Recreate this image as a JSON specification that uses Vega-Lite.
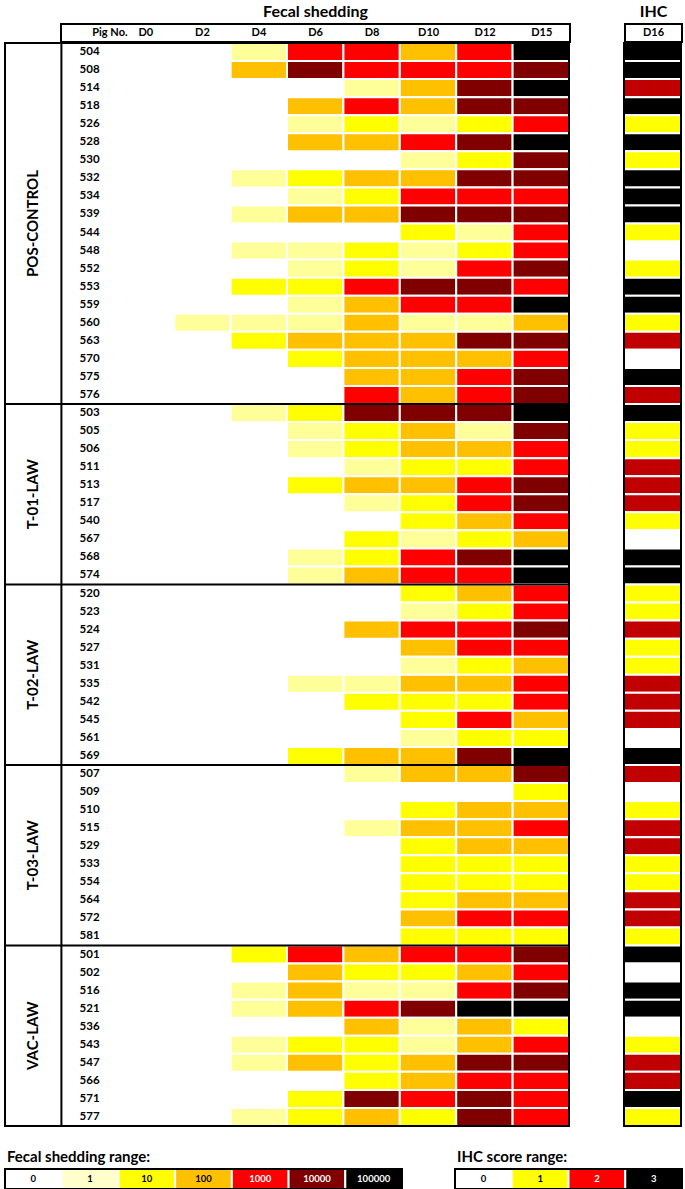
{
 "$schema": "https://vega.github.io/schema/vega-lite/v6.json",
 "padding": {"left": 4, "top": 4, "right": 0, "bottom": 0},
 "background": "white",
 "config": {
  "view": {"stroke": null},
  "font": "Lato",
  "title": {"font": "Lato", "fontSize": 16, "fontWeight": "bold", "offset": 3, "color": "black"},
  "text": {"font": "Lato", "fontWeight": "bold", "fontSize": 11, "color": "black"}
 },
 "datasets": {
  "pigs": [
   {"pig":"504","group":"POS-CONTROL","D0":0,"D2":0,"D4":1,"D6":1000,"D8":1000,"D10":100,"D12":1000,"D15":100000,"IHC":3},
   {"pig":"508","group":"POS-CONTROL","D0":0,"D2":0,"D4":100,"D6":10000,"D8":1000,"D10":1000,"D12":1000,"D15":10000,"IHC":3},
   {"pig":"514","group":"POS-CONTROL","D0":0,"D2":0,"D4":0,"D6":0,"D8":1,"D10":100,"D12":10000,"D15":100000,"IHC":2},
   {"pig":"518","group":"POS-CONTROL","D0":0,"D2":0,"D4":0,"D6":100,"D8":1000,"D10":100,"D12":10000,"D15":10000,"IHC":3},
   {"pig":"526","group":"POS-CONTROL","D0":0,"D2":0,"D4":0,"D6":1,"D8":10,"D10":1,"D12":10,"D15":1000,"IHC":1},
   {"pig":"528","group":"POS-CONTROL","D0":0,"D2":0,"D4":0,"D6":100,"D8":100,"D10":1000,"D12":10000,"D15":100000,"IHC":3},
   {"pig":"530","group":"POS-CONTROL","D0":0,"D2":0,"D4":0,"D6":0,"D8":0,"D10":1,"D12":10,"D15":10000,"IHC":1},
   {"pig":"532","group":"POS-CONTROL","D0":0,"D2":0,"D4":1,"D6":10,"D8":100,"D10":100,"D12":10000,"D15":10000,"IHC":3},
   {"pig":"534","group":"POS-CONTROL","D0":0,"D2":0,"D4":0,"D6":1,"D8":10,"D10":1000,"D12":1000,"D15":1000,"IHC":3},
   {"pig":"539","group":"POS-CONTROL","D0":0,"D2":0,"D4":1,"D6":100,"D8":100,"D10":10000,"D12":10000,"D15":10000,"IHC":3},
   {"pig":"544","group":"POS-CONTROL","D0":0,"D2":0,"D4":0,"D6":0,"D8":0,"D10":10,"D12":1,"D15":1000,"IHC":1},
   {"pig":"548","group":"POS-CONTROL","D0":0,"D2":0,"D4":1,"D6":1,"D8":10,"D10":1,"D12":10,"D15":1000,"IHC":0},
   {"pig":"552","group":"POS-CONTROL","D0":0,"D2":0,"D4":0,"D6":1,"D8":10,"D10":1,"D12":1000,"D15":10000,"IHC":1},
   {"pig":"553","group":"POS-CONTROL","D0":0,"D2":0,"D4":10,"D6":10,"D8":1000,"D10":10000,"D12":10000,"D15":1000,"IHC":3},
   {"pig":"559","group":"POS-CONTROL","D0":0,"D2":0,"D4":0,"D6":1,"D8":100,"D10":1000,"D12":1000,"D15":100000,"IHC":3},
   {"pig":"560","group":"POS-CONTROL","D0":0,"D2":1,"D4":1,"D6":1,"D8":100,"D10":1,"D12":1,"D15":100,"IHC":1},
   {"pig":"563","group":"POS-CONTROL","D0":0,"D2":0,"D4":10,"D6":100,"D8":100,"D10":100,"D12":10000,"D15":10000,"IHC":2},
   {"pig":"570","group":"POS-CONTROL","D0":0,"D2":0,"D4":0,"D6":10,"D8":100,"D10":100,"D12":100,"D15":1000,"IHC":0},
   {"pig":"575","group":"POS-CONTROL","D0":0,"D2":0,"D4":0,"D6":0,"D8":100,"D10":100,"D12":1000,"D15":10000,"IHC":3},
   {"pig":"576","group":"POS-CONTROL","D0":0,"D2":0,"D4":0,"D6":0,"D8":1000,"D10":100,"D12":1000,"D15":10000,"IHC":2},
   {"pig":"503","group":"T-01-LAW","D0":0,"D2":0,"D4":1,"D6":10,"D8":10000,"D10":10000,"D12":10000,"D15":100000,"IHC":3},
   {"pig":"505","group":"T-01-LAW","D0":0,"D2":0,"D4":0,"D6":1,"D8":10,"D10":100,"D12":1,"D15":10000,"IHC":1},
   {"pig":"506","group":"T-01-LAW","D0":0,"D2":0,"D4":0,"D6":1,"D8":10,"D10":100,"D12":100,"D15":1000,"IHC":1},
   {"pig":"511","group":"T-01-LAW","D0":0,"D2":0,"D4":0,"D6":0,"D8":1,"D10":10,"D12":10,"D15":1000,"IHC":2},
   {"pig":"513","group":"T-01-LAW","D0":0,"D2":0,"D4":0,"D6":10,"D8":100,"D10":100,"D12":1000,"D15":10000,"IHC":2},
   {"pig":"517","group":"T-01-LAW","D0":0,"D2":0,"D4":0,"D6":0,"D8":1,"D10":10,"D12":1000,"D15":10000,"IHC":2},
   {"pig":"540","group":"T-01-LAW","D0":0,"D2":0,"D4":0,"D6":0,"D8":0,"D10":10,"D12":100,"D15":1000,"IHC":1},
   {"pig":"567","group":"T-01-LAW","D0":0,"D2":0,"D4":0,"D6":0,"D8":10,"D10":1,"D12":10,"D15":100,"IHC":0},
   {"pig":"568","group":"T-01-LAW","D0":0,"D2":0,"D4":0,"D6":1,"D8":10,"D10":1000,"D12":10000,"D15":100000,"IHC":3},
   {"pig":"574","group":"T-01-LAW","D0":0,"D2":0,"D4":0,"D6":1,"D8":100,"D10":1000,"D12":1000,"D15":100000,"IHC":3},
   {"pig":"520","group":"T-02-LAW","D0":0,"D2":0,"D4":0,"D6":0,"D8":0,"D10":10,"D12":100,"D15":1000,"IHC":1},
   {"pig":"523","group":"T-02-LAW","D0":0,"D2":0,"D4":0,"D6":0,"D8":0,"D10":1,"D12":10,"D15":1000,"IHC":1},
   {"pig":"524","group":"T-02-LAW","D0":0,"D2":0,"D4":0,"D6":0,"D8":100,"D10":1000,"D12":1000,"D15":10000,"IHC":2},
   {"pig":"527","group":"T-02-LAW","D0":0,"D2":0,"D4":0,"D6":0,"D8":0,"D10":100,"D12":1000,"D15":1000,"IHC":1},
   {"pig":"531","group":"T-02-LAW","D0":0,"D2":0,"D4":0,"D6":0,"D8":0,"D10":1,"D12":10,"D15":100,"IHC":1},
   {"pig":"535","group":"T-02-LAW","D0":0,"D2":0,"D4":0,"D6":1,"D8":1,"D10":100,"D12":100,"D15":1000,"IHC":2},
   {"pig":"542","group":"T-02-LAW","D0":0,"D2":0,"D4":0,"D6":0,"D8":10,"D10":10,"D12":10,"D15":1000,"IHC":2},
   {"pig":"545","group":"T-02-LAW","D0":0,"D2":0,"D4":0,"D6":0,"D8":0,"D10":10,"D12":1000,"D15":100,"IHC":2},
   {"pig":"561","group":"T-02-LAW","D0":0,"D2":0,"D4":0,"D6":0,"D8":0,"D10":1,"D12":10,"D15":10,"IHC":0},
   {"pig":"569","group":"T-02-LAW","D0":0,"D2":0,"D4":0,"D6":10,"D8":100,"D10":100,"D12":10000,"D15":100000,"IHC":3},
   {"pig":"507","group":"T-03-LAW","D0":0,"D2":0,"D4":0,"D6":0,"D8":1,"D10":100,"D12":100,"D15":10000,"IHC":2},
   {"pig":"509","group":"T-03-LAW","D0":0,"D2":0,"D4":0,"D6":0,"D8":0,"D10":0,"D12":0,"D15":10,"IHC":0},
   {"pig":"510","group":"T-03-LAW","D0":0,"D2":0,"D4":0,"D6":0,"D8":0,"D10":10,"D12":100,"D15":100,"IHC":1},
   {"pig":"515","group":"T-03-LAW","D0":0,"D2":0,"D4":0,"D6":0,"D8":1,"D10":100,"D12":100,"D15":1000,"IHC":2},
   {"pig":"529","group":"T-03-LAW","D0":0,"D2":0,"D4":0,"D6":0,"D8":0,"D10":10,"D12":100,"D15":100,"IHC":2},
   {"pig":"533","group":"T-03-LAW","D0":0,"D2":0,"D4":0,"D6":0,"D8":0,"D10":10,"D12":10,"D15":10,"IHC":1},
   {"pig":"554","group":"T-03-LAW","D0":0,"D2":0,"D4":0,"D6":0,"D8":0,"D10":10,"D12":10,"D15":10,"IHC":1},
   {"pig":"564","group":"T-03-LAW","D0":0,"D2":0,"D4":0,"D6":0,"D8":0,"D10":10,"D12":100,"D15":100,"IHC":2},
   {"pig":"572","group":"T-03-LAW","D0":0,"D2":0,"D4":0,"D6":0,"D8":0,"D10":100,"D12":1000,"D15":1000,"IHC":2},
   {"pig":"581","group":"T-03-LAW","D0":0,"D2":0,"D4":0,"D6":0,"D8":0,"D10":10,"D12":10,"D15":10,"IHC":1},
   {"pig":"501","group":"VAC-LAW","D0":0,"D2":0,"D4":10,"D6":1000,"D8":100,"D10":1000,"D12":1000,"D15":10000,"IHC":3},
   {"pig":"502","group":"VAC-LAW","D0":0,"D2":0,"D4":0,"D6":100,"D8":10,"D10":10,"D12":100,"D15":1000,"IHC":0},
   {"pig":"516","group":"VAC-LAW","D0":0,"D2":0,"D4":1,"D6":100,"D8":1,"D10":1,"D12":1000,"D15":10000,"IHC":3},
   {"pig":"521","group":"VAC-LAW","D0":0,"D2":0,"D4":1,"D6":100,"D8":1000,"D10":10000,"D12":100000,"D15":100000,"IHC":3},
   {"pig":"536","group":"VAC-LAW","D0":0,"D2":0,"D4":0,"D6":0,"D8":100,"D10":1,"D12":100,"D15":10,"IHC":0},
   {"pig":"543","group":"VAC-LAW","D0":0,"D2":0,"D4":1,"D6":10,"D8":10,"D10":1,"D12":100,"D15":1000,"IHC":1},
   {"pig":"547","group":"VAC-LAW","D0":0,"D2":0,"D4":1,"D6":100,"D8":10,"D10":100,"D12":10000,"D15":10000,"IHC":2},
   {"pig":"566","group":"VAC-LAW","D0":0,"D2":0,"D4":0,"D6":0,"D8":10,"D10":100,"D12":1000,"D15":1000,"IHC":2},
   {"pig":"571","group":"VAC-LAW","D0":0,"D2":0,"D4":0,"D6":10,"D8":10000,"D10":1000,"D12":10000,"D15":1000,"IHC":3},
   {"pig":"577","group":"VAC-LAW","D0":0,"D2":0,"D4":1,"D6":10,"D8":100,"D10":10,"D12":10000,"D15":1000,"IHC":1}
  ],
  "groups": [
   {"group":"POS-CONTROL","first":"504","mid":"539"},
   {"group":"T-01-LAW","first":"503","mid":"513"},
   {"group":"T-02-LAW","first":"520","mid":"531"},
   {"group":"T-03-LAW","first":"507","mid":"529"},
   {"group":"VAC-LAW","first":"501","mid":"536"}
  ],
  "frame": [{}]
 },
 "resolve": {"scale": {"color": "independent"}},
 "spacing": 23,
 "vconcat": [
  {
   "spacing": -2,
   "resolve": {"scale": {"color": "independent"}},
   "vconcat": [
    {
     "spacing": 53,
     "resolve": {"scale": {"color": "independent"}},
     "hconcat": [
      {
       "width": 2, "height": 18,
       "data": {"values": [{}]},
       "mark": {"type": "text"},
       "encoding": {"text": {"value": ""}}
      },
      {
       "width": 509, "height": 18,
       "title": {"text": "Fecal shedding", "anchor": "middle", "frame": "group"},
       "data": {"values": [
        {"c":"pig","t":"Pig No."},{"c":"D0","t":"D0"},{"c":"D2","t":"D2"},{"c":"D4","t":"D4"},{"c":"D6","t":"D6"},
        {"c":"D8","t":"D8"},{"c":"D10","t":"D10"},{"c":"D12","t":"D12"},{"c":"D15","t":"D15"}
       ]},
       "layer": [
        {
         "transform": [{"filter": "datum.c !== 'pig'"}],
         "mark": {"type": "text"},
         "encoding": {
          "x": {"field": "c", "type": "nominal", "scale": {"domain": ["pig","D0","D2","D4","D6","D8","D10","D12","D15"], "paddingInner": 0, "paddingOuter": 0}, "axis": null},
          "text": {"field": "t"}
         }
        },
        {
         "transform": [{"filter": "datum.c === 'pig'"}],
         "mark": {"type": "text", "align": "left", "dx": 3},
         "encoding": {
          "x": {"field": "c", "type": "nominal", "bandPosition": 0, "axis": null},
          "text": {"field": "t"}
         }
        },
        {
         "data": {"name": "frame"},
         "mark": {"type": "rect", "filled": false, "stroke": "black", "strokeWidth": 2},
         "encoding": {"x": {"value": 0}, "x2": {"value": "width"}, "y": {"value": 0}, "y2": {"value": "height"}}
        }
       ]
      },
      {
       "width": 57, "height": 18,
       "title": {"text": "IHC", "anchor": "middle", "frame": "group"},
       "layer": [
        {
         "data": {"values": [{"t": "D16"}]},
         "mark": {"type": "text"},
         "encoding": {"text": {"field": "t"}}
        },
        {
         "data": {"name": "frame"},
         "mark": {"type": "rect", "filled": false, "stroke": "black", "strokeWidth": 2},
         "encoding": {"x": {"value": 0}, "x2": {"value": "width"}, "y": {"value": 0}, "y2": {"value": "height"}}
        }
       ]
      }
     ]
    },
    {
     "spacing": 53,
     "resolve": {"scale": {"color": "independent"}},
     "hconcat": [
      {
       "width": 564, "height": 1083,
       "layer": [
        {
         "data": {"name": "pigs"},
         "transform": [
          {"fold": ["D0","D2","D4","D6","D8","D10","D12","D15"], "as": ["day","value"]},
          {"filter": "datum.value > 0"}
         ],
         "mark": {"type": "rect", "stroke": "white", "strokeWidth": 2},
         "encoding": {
          "x": {"field": "day", "type": "nominal", "scale": {"domain": ["grp","pig","D0","D2","D4","D6","D8","D10","D12","D15"], "paddingInner": 0, "paddingOuter": 0}, "axis": null},
          "y": {"field": "pig", "type": "nominal", "scale": {"domain": ["504","508","514","518","526","528","530","532","534","539","544","548","552","553","559","560","563","570","575","576","503","505","506","511","513","517","540","567","568","574","520","523","524","527","531","535","542","545","561","569","507","509","510","515","529","533","554","564","572","581","501","502","516","521","536","543","547","566","571","577"], "paddingInner": 0, "paddingOuter": 0}, "axis": null},
          "color": {"field": "value", "type": "ordinal", "scale": {"domain": [0,1,10,100,1000,10000,100000], "range": ["#FFFFFF","#FFFF99","#FFFF00","#FFC000","#FF0000","#800000","#000000"]}, "legend": null}
         }
        },
        {
         "data": {"name": "pigs"},
         "mark": {"type": "text", "fontSize": 11.5},
         "encoding": {
          "x": {"datum": "pig", "type": "nominal"},
          "y": {"field": "pig", "type": "nominal"},
          "text": {"field": "pig"}
         }
        },
        {
         "data": {"name": "groups"},
         "mark": {"type": "text", "angle": 270, "fontSize": 15, "align": "center", "baseline": "middle"},
         "encoding": {
          "x": {"datum": "grp", "type": "nominal"},
          "y": {"field": "mid", "type": "nominal", "bandPosition": 1},
          "text": {"field": "group"}
         }
        },
        {
         "data": {"name": "groups"},
         "mark": {"type": "rule", "color": "black", "strokeWidth": 2},
         "encoding": {
          "y": {"field": "first", "type": "nominal", "bandPosition": 0}
         }
        },
        {
         "data": {"name": "frame"},
         "mark": {"type": "rule", "color": "black", "strokeWidth": 2},
         "encoding": {
          "x": {"datum": "pig", "type": "nominal", "bandPosition": 0}
         }
        },
        {
         "data": {"name": "frame"},
         "mark": {"type": "rect", "filled": false, "stroke": "black", "strokeWidth": 2},
         "encoding": {"x": {"value": 0}, "x2": {"value": "width"}, "y": {"value": 0}, "y2": {"value": "height"}}
        }
       ]
      },
      {
       "width": 57, "height": 1083,
       "layer": [
        {
         "data": {"name": "pigs"},
         "mark": {"type": "rect", "stroke": "white", "strokeWidth": 2},
         "encoding": {
          "x": {"value": 0},
          "x2": {"value": "width"},
          "y": {"field": "pig", "type": "nominal", "sort": null, "scale": {"paddingInner": 0, "paddingOuter": 0}, "axis": null},
          "color": {"field": "IHC", "type": "ordinal", "scale": {"domain": [0,1,2,3], "range": ["#FFFFFF","#FFFF00","#C00000","#000000"]}, "legend": null}
         }
        },
        {
         "data": {"name": "frame"},
         "mark": {"type": "rect", "filled": false, "stroke": "black", "strokeWidth": 2},
         "encoding": {"x": {"value": 0}, "x2": {"value": "width"}, "y": {"value": 0}, "y2": {"value": "height"}}
        }
       ]
      }
     ]
    }
   ]
  },
  {
   "spacing": 51,
   "resolve": {"scale": {"color": "independent"}},
   "hconcat": [
    {
     "width": 397, "height": 20,
     "title": {"text": "Fecal shedding range:", "anchor": "start", "fontSize": 15, "dx": 3},
     "layer": [
      {
       "data": {"values": [{"v":"0"},{"v":"1"},{"v":"10"},{"v":"100"},{"v":"1000"},{"v":"10000"},{"v":"100000"}]},
       "mark": {"type": "rect", "stroke": "white", "strokeWidth": 2},
       "encoding": {
        "x": {"field": "v", "type": "nominal", "sort": null, "scale": {"paddingInner": 0, "paddingOuter": 0}, "axis": null},
        "y": {"value": 0},
        "y2": {"value": "height"},
        "color": {"field": "v", "type": "nominal", "scale": {"domain": ["0","1","10","100","1000","10000","100000"], "range": ["#FFFFFF","#FFFFCC","#FFFF00","#FFC000","#FF0000","#800000","#000000"]}, "legend": null}
       }
      },
      {
       "data": {"values": [{"v":"0"},{"v":"1"},{"v":"10"},{"v":"100"},{"v":"1000"},{"v":"10000"},{"v":"100000"}]},
       "mark": {"type": "text", "fontSize": 9.5, "fontWeight": "bold"},
       "encoding": {
        "x": {"field": "v", "type": "nominal", "sort": null},
        "text": {"field": "v"},
        "color": {"condition": {"test": "+datum.v >= 1000", "value": "white"}, "value": "black"}
       }
      },
      {
       "data": {"name": "frame"},
       "mark": {"type": "rect", "filled": false, "stroke": "black", "strokeWidth": 2},
       "encoding": {"x": {"value": 0}, "x2": {"value": "width"}, "y": {"value": 0}, "y2": {"value": "height"}}
      }
     ]
    },
    {
     "width": 227, "height": 20,
     "title": {"text": "IHC score range:", "anchor": "start", "fontSize": 15, "dx": 3},
     "layer": [
      {
       "data": {"values": [{"v":"0"},{"v":"1"},{"v":"2"},{"v":"3"}]},
       "mark": {"type": "rect", "stroke": "white", "strokeWidth": 2},
       "encoding": {
        "x": {"field": "v", "type": "nominal", "sort": null, "scale": {"paddingInner": 0, "paddingOuter": 0}, "axis": null},
        "y": {"value": 0},
        "y2": {"value": "height"},
        "color": {"field": "v", "type": "nominal", "scale": {"domain": ["0","1","2","3"], "range": ["#FFFFFF","#FFFF00","#FF0000","#000000"]}, "legend": null}
       }
      },
      {
       "data": {"values": [{"v":"0"},{"v":"1"},{"v":"2"},{"v":"3"}]},
       "mark": {"type": "text", "fontSize": 9.5, "fontWeight": "bold"},
       "encoding": {
        "x": {"field": "v", "type": "nominal", "sort": null},
        "text": {"field": "v"},
        "color": {"condition": {"test": "+datum.v >= 2", "value": "white"}, "value": "black"}
       }
      },
      {
       "data": {"name": "frame"},
       "mark": {"type": "rect", "filled": false, "stroke": "black", "strokeWidth": 2},
       "encoding": {"x": {"value": 0}, "x2": {"value": "width"}, "y": {"value": 0}, "y2": {"value": "height"}}
      }
     ]
    }
   ]
  }
 ]
}
